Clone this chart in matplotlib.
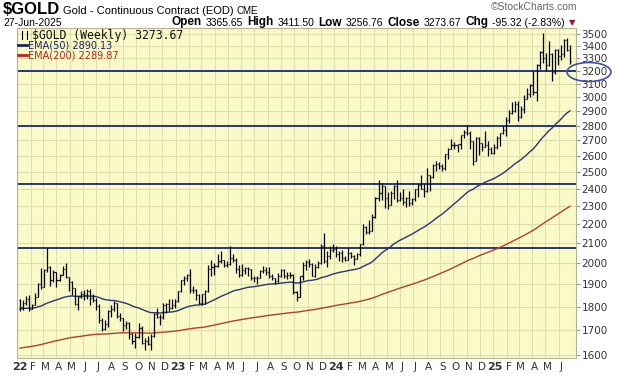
import pandas as pd
import matplotlib
matplotlib.use('Agg')
import matplotlib.pyplot as plt
import matplotlib.dates as mdates
from matplotlib.patches import Ellipse
from matplotlib.lines import Line2D
from matplotlib.ticker import FixedLocator, NullLocator, FixedFormatter

# weekly OHLC, first bar = week ending 7-Jan-2022, last = 27-Jun-2025
opens = [1829, 1797, 1817, 1835, 1791, 1807, 1842, 1900, 1889, 1966, 1985, 1921, 1958, 1923, 1945, 1974,
         1934, 1911, 1883, 1811, 1842, 1857, 1850, 1871, 1840, 1829, 1801, 1742, 1703, 1727, 1781, 1791,
         1815, 1760, 1749, 1722, 1728, 1683, 1655, 1672, 1709, 1649, 1657, 1644, 1676, 1769, 1754, 1755,
         1809, 1810, 1793, 1805,
         1826, 1869, 1921, 1928, 1945, 1876, 1874, 1850, 1817, 1855, 1868, 1973, 1983, 1986, 2011, 2015,
         1990, 1999, 2025, 2019, 1975, 1944, 1969, 1977, 1971, 1929, 1929, 1932, 1964, 1966, 1960, 1942,
         1928, 1915, 1940, 1966, 1942, 1946, 1945, 1866, 1845, 1941, 1994, 2006, 1999, 1940, 1984, 2001,
         2089, 2014, 2036, 2069,
         2072, 2049, 2051, 2029, 2018, 2053, 2038, 2024, 2045, 2095, 2185, 2161, 2166, 2238, 2345, 2374,
         2413, 2347, 2308, 2375, 2417, 2334, 2348, 2325, 2349, 2316, 2339, 2397, 2421, 2399, 2386, 2480,
         2472, 2541, 2547, 2537, 2524, 2610, 2646, 2668, 2667, 2676, 2736, 2757, 2750, 2694, 2570, 2716,
         2681, 2657, 2668, 2645,
         2621, 2655, 2715, 2748, 2771, 2835, 2887, 2900, 2953, 2858, 2914, 2990, 3026, 3089, 3035, 3245,
         3346, 3298, 3247, 3332, 3187, 3366, 3315, 3331, 3452, 3365.65]
highs = [1833, 1830, 1848, 1853, 1810, 1862, 1905, 1976, 1974, 2078, 1989, 1966, 1961, 1949, 1988, 2003,
         1936, 1915, 1885, 1848, 1870, 1876, 1877, 1881, 1856, 1837, 1812, 1749, 1742, 1784, 1807, 1824,
         1817, 1772, 1752, 1737, 1735, 1688, 1686, 1730, 1717, 1666, 1675, 1683, 1774, 1793, 1768, 1815,
         1818, 1836, 1833, 1834,
         1871, 1923, 1938, 1950, 1975, 1895, 1880, 1858, 1858, 1875, 1990, 2015, 2001, 2047, 2063, 2019,
         2014, 2085, 2048, 2025, 1990, 1998, 1984, 1983, 1973, 1938, 1940, 1968, 1987, 1984, 1985, 1951,
         1931, 1953, 1975, 1972, 1958, 1960, 1950, 1868, 1942, 2009, 2019, 2020, 2003, 1998, 2013, 2095,
         2152, 2060, 2085, 2098,
         2088, 2062, 2068, 2036, 2075, 2056, 2043, 2050, 2096, 2203, 2190, 2225, 2257, 2350, 2449, 2431,
         2413, 2378, 2387, 2422, 2454, 2378, 2398, 2352, 2389, 2345, 2399, 2425, 2484, 2426, 2522, 2481,
         2549, 2570, 2564, 2547, 2615, 2650, 2709, 2690, 2672, 2737, 2772, 2801, 2764, 2694, 2721, 2720,
         2686, 2762, 2694, 2654,
         2675, 2727, 2752, 2796, 2862, 2910, 2968, 2973, 2974, 2934, 3017, 3065, 3096, 3201, 3255, 3358,
         3509, 3342, 3442, 3345, 3375, 3372, 3409, 3456, 3469, 3411.50]
lows = [1782, 1787, 1806, 1779, 1788, 1806, 1842, 1878, 1889, 1960, 1895, 1910, 1890, 1915, 1944, 1931,
        1872, 1850, 1808, 1786, 1840, 1828, 1836, 1805, 1822, 1784, 1730, 1695, 1699, 1711, 1754, 1782,
        1750, 1738, 1698, 1703, 1662, 1643, 1626, 1666, 1643, 1620, 1638, 1618, 1673, 1749, 1723, 1747,
        1773, 1779, 1789, 1796,
        1822, 1866, 1897, 1915, 1862, 1861, 1829, 1812, 1805, 1810, 1866, 1939, 1944, 1984, 2000, 1981,
        1983, 1994, 2009, 1953, 1936, 1940, 1947, 1939, 1919, 1910, 1902, 1928, 1954, 1944, 1932, 1920,
        1900, 1912, 1936, 1929, 1925, 1930, 1858, 1823, 1844, 1922, 1968, 1983, 1939, 1935, 1979, 1998,
        2001, 1985, 2024, 2058,
        2034, 2014, 2009, 2010, 2015, 2025, 1990, 2020, 2035, 2093, 2150, 2147, 2165, 2237, 2331, 2337,
        2292, 2285, 2304, 2343, 2325, 2327, 2306, 2294, 2302, 2306, 2328, 2354, 2399, 2353, 2380, 2386,
        2464, 2503, 2518, 2508, 2512, 2578, 2646, 2641, 2624, 2647, 2717, 2737, 2647, 2540, 2565, 2606,
        2630, 2655, 2599, 2614,
        2610, 2641, 2666, 2740, 2730, 2815, 2880, 2894, 2833, 2853, 2886, 2985, 3002, 3015, 2970, 3217,
        3264, 3202, 3241, 3120, 3178, 3246, 3289, 3310, 3360, 3256.76]
closes = [1797, 1817, 1835, 1791, 1807, 1842, 1900, 1889, 1966, 1985, 1921, 1958, 1923, 1945, 1974, 1934,
          1911, 1883, 1811, 1842, 1857, 1850, 1871, 1840, 1829, 1801, 1742, 1703, 1727, 1781, 1791, 1815,
          1760, 1749, 1722, 1728, 1683, 1655, 1672, 1709, 1649, 1657, 1644, 1676, 1769, 1754, 1755, 1809,
          1810, 1793, 1805, 1826,
          1869, 1921, 1928, 1945, 1876, 1874, 1850, 1817, 1855, 1868, 1973, 1983, 1986, 2011, 2015, 1990,
          1999, 2025, 2019, 1975, 1944, 1969, 1977, 1971, 1929, 1929, 1932, 1964, 1966, 1960, 1942, 1928,
          1915, 1940, 1966, 1942, 1946, 1945, 1866, 1845, 1941, 1994, 2006, 1999, 1940, 1984, 2001, 2089,
          2014, 2036, 2069, 2072,
          2049, 2051, 2029, 2018, 2053, 2038, 2024, 2045, 2095, 2185, 2161, 2166, 2238, 2345, 2374, 2413,
          2347, 2308, 2375, 2417, 2334, 2348, 2325, 2349, 2316, 2339, 2397, 2421, 2399, 2386, 2480, 2472,
          2541, 2547, 2537, 2524, 2610, 2646, 2668, 2667, 2676, 2736, 2757, 2750, 2694, 2570, 2716, 2681,
          2657, 2668, 2645, 2621,
          2655, 2715, 2748, 2771, 2835, 2887, 2900, 2953, 2858, 2914, 2990, 3026, 3089, 3035, 3245, 3346,
          3298, 3247, 3332, 3187, 3366, 3315, 3331, 3452, 3369, 3273.67]

ema50_start = 1790    # EMA values at left edge of the chart
ema200_start = 1625
levels = [2078, 2430, 2800, 3200]
yticks = list(range(1600, 3600, 100))
month_letters = ['J', 'F', 'M', 'A', 'M', 'J', 'J', 'A', 'S', 'O', 'N', 'D']

W, H = 620, 376
HEAD = 'Liberation Sans'


def ema(vals, n, start):
    k = 2 / (n + 1)
    e = start
    out = []
    for v in vals:
        e = e + k * (v - e)
        out.append(e)
    return out


def fx(px):
    return px / W


def fy(py):
    return 1 - py / H


dates = pd.date_range('2022-01-07', periods=len(closes), freq='W-FRI')
x = mdates.date2num(dates)

fig = plt.figure(figsize=(W / 100, H / 100), dpi=100)
ax = fig.add_axes([fx(17), fy(358), (576 - 17) / W, (358 - 28) / H])
ax.set_facecolor('#fafac8')
for s in ax.spines.values():
    s.set_color('#b4b494')
    s.set_linewidth(0.8)

ax.set_yscale('log')
ax.set_ylim(1588, 3552)
ax.set_xlim(mdates.date2num(pd.Timestamp('2021-12-31')), mdates.date2num(pd.Timestamp('2025-07-11')))

# grid
months = pd.date_range('2022-01-01', '2025-06-01', freq='MS')
for m in months:
    ax.axvline(mdates.date2num(m), color='#dedeae', lw=0.8, zorder=0)
for t in yticks:
    ax.axhline(t, color='#dedeae', lw=0.8, zorder=0)

ax.yaxis.tick_right()
ax.yaxis.set_major_locator(FixedLocator(yticks))
ax.yaxis.set_major_formatter(FixedFormatter([str(t) for t in yticks]))
ax.yaxis.set_minor_locator(NullLocator())
ax.tick_params(axis='y', length=3, color='#999999', labelsize=7.5, labelcolor='#333333', pad=1)
ax.set_xticks([])

# month labels
for m in months:
    xm = mdates.date2num(m + pd.Timedelta(days=5))
    if m.month == 1:
        ax.text(xm, -0.028, str(m.year)[2:], transform=ax.get_xaxis_transform(),
                ha='center', va='center', fontsize=8, fontweight='bold', color='#333333')
    else:
        ax.text(xm, -0.028, month_letters[m.month - 1], transform=ax.get_xaxis_transform(),
                ha='center', va='center', fontsize=7.5, color='#333333')

# horizontal levels
for lv in levels:
    ax.axhline(lv, color='#1c2580', lw=1.3, zorder=2)

# EMAs
ax.plot(x, ema(closes, 200, ema200_start), color='#b3402a', lw=1.0, zorder=3)
ax.plot(x, ema(closes, 50, ema50_start), color='#2a3670', lw=1.0, zorder=3)

# OHLC bars
ax.vlines(x, lows, highs, color='black', lw=0.9, zorder=4)
ax.hlines(opens, x - 2.5, x, color='black', lw=0.9, zorder=4)
ax.hlines(closes, x, x + 2.5, color='black', lw=0.9, zorder=4)

# legend inside plot
fig.text(fx(32), fy(39), '$GOLD (Weekly) 3273.67', family='DejaVu Sans Mono', fontsize=8.3,
         color='#111111', va='baseline')
fig.add_artist(Line2D([fx(22), fx(22)], [fy(39), fy(31)], color='black', lw=0.8))
fig.add_artist(Line2D([fx(27), fx(27)], [fy(39), fy(31)], color='black', lw=0.8))
fig.add_artist(Line2D([fx(18), fx(27)], [fy(45), fy(45)], color='#1c2560', lw=2))
fig.text(fx(28), fy(49), 'EMA(50) 2890.13', fontsize=7, color='#1c2560', va='baseline')
fig.add_artist(Line2D([fx(18), fx(27)], [fy(55), fy(55)], color='#c02020', lw=2))
fig.text(fx(28), fy(59), 'EMA(200) 2289.87', fontsize=7, color='#c02020', va='baseline')

# header
renderer = fig.canvas.get_renderer()


def row(segments, x0, y, gap):
    xp = x0
    for s, size, bold, color in segments:
        t = fig.text(fx(xp), fy(y), s, family=HEAD, fontsize=size,
                     fontweight='bold' if bold else 'normal', color=color, va='baseline')
        xp += t.get_window_extent(renderer).width + gap
    return xp


row([('$GOLD', 12, True, 'black'), ('Gold - Continuous Contract (EOD)', 8, False, 'black'),
     ('CME', 7, False, 'black')], 3, 14.5, 3)
fig.text(fx(577), fy(10), '\u00a9StockCharts.com', family=HEAD, fontsize=7.5, color='#666666',
         ha='right', va='baseline')
fig.text(fx(3), fy(25.5), '27-Jun-2025', family=HEAD, fontsize=7.5, color='black', va='baseline')
end = row([('Open', 8.5, True, 'black'), ('3365.65', 7.5, False, 'black'),
           ('High', 8.5, True, 'black'), ('3411.50', 7.5, False, 'black'),
           ('Low', 8.5, True, 'black'), ('3256.76', 7.5, False, 'black'),
           ('Close', 8.5, True, 'black'), ('3273.67', 7.5, False, 'black'),
           ('Chg', 8.5, True, 'black'), ('-95.32 (-2.83%)', 7.5, False, 'black')], 172, 25.5, 4)
fig.text(fx(end), fy(25.5), '\u25bc', fontsize=6, color='#a01030', va='baseline')

# circle around the 3200 label
fig.add_artist(Ellipse((fx(589), fy(72)), 44 / W, 19 / H, transform=fig.transFigure,
                       fill=False, edgecolor='#3f4fa6', lw=1.2))

fig.savefig('out.png', dpi=100, facecolor='white')
